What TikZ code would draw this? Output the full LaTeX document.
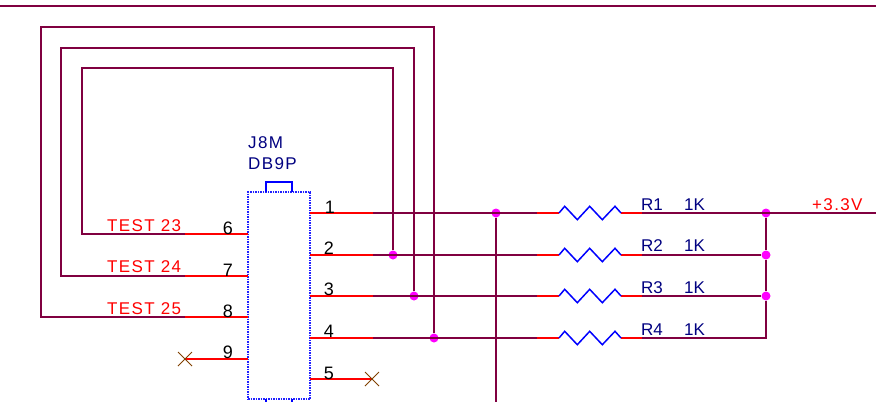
\documentclass[tikz,border=0pt]{standalone}
\usepackage{fontspec}
\setmainfont{Liberation Sans}
\newfontfamily\widefont[LetterSpace=8]{Liberation Sans}
\definecolor{wirecol}{HTML}{800040}
\definecolor{pincol}{HTML}{FF0000}
\definecolor{refcol}{HTML}{000080}
\definecolor{boxcol}{HTML}{2020FF}
\definecolor{nccol}{HTML}{804000}
\definecolor{dotcol}{HTML}{FF00FF}
\tikzset{
  wire/.style={draw=wirecol,line width=1.6pt},
  pin/.style={draw=pincol,line width=1.6pt},
  res/.style={draw=blue,line width=1.5pt},
  dot/.style={circle,fill=dotcol,inner sep=0pt,minimum size=9pt},
  nc/.style={draw=nccol,line width=0.8pt},
  num/.style={text=black,font=\fontsize{18}{20}\selectfont,inner sep=0pt},
  reflabel/.style={text=refcol,font=\fontsize{17}{19}\selectfont,inner sep=0pt,anchor=base west},
  netlabel/.style={text=pincol,font=\fontsize{17}{19}\selectfont\widefont,inner sep=0pt,anchor=base west},
}
\begin{document}
\begin{tikzpicture}[x=1pt,y=-1pt]
\useasboundingbox (0,0) rectangle (876,402);

% define the connector
  \node[draw=boxcol,densely dotted,line width=1.5pt,inner sep=0pt,minimum width=62pt,minimum height=207pt] (j8) at (279,295.5) {};
  \draw[res] (266,192) |- (292,182) -- (292,192);
  \draw[res] (266,399) -- (266,402) (292,399) -- (292,402);

% define the pin ends
  \coordinate (p1a) at (310,213);  \coordinate (p1) at (373,213);
  \coordinate (p2a) at (310,255);  \coordinate (p2) at (373,255);
  \coordinate (p3a) at (310,296);  \coordinate (p3) at (373,296);
  \coordinate (p4a) at (310,338);  \coordinate (p4) at (373,338);
  \coordinate (p5a) at (310,379);  \coordinate (p5) at (372,379);
  \coordinate (p6a) at (248,234);  \coordinate (p6) at (185,234);
  \coordinate (p7a) at (248,276);  \coordinate (p7) at (185,276);
  \coordinate (p8a) at (248,317);  \coordinate (p8) at (185,317);
  \coordinate (p9a) at (248,359);  \coordinate (p9) at (185,359);

% define the junctions
  \node[dot] (d1) at (496,213) {};
  \node[dot] (d2) at (393,255) {};
  \node[dot] (d3) at (414,296) {};
  \node[dot] (d4) at (434,338) {};
  \node[dot] (e1) at (766,213) {};
  \node[dot] (e2) at (766,255) {};
  \node[dot] (e3) at (766,296) {};
  \coordinate (e4) at (766,338);

% define the resistor ends
  \coordinate (r1a) at (537,213);  \coordinate (r1b) at (559,213);
  \coordinate (r1c) at (621,213);  \coordinate (r1d) at (642,213);
  \coordinate (r2a) at (537,255);  \coordinate (r2b) at (559,255);
  \coordinate (r2c) at (621,255);  \coordinate (r2d) at (642,255);
  \coordinate (r3a) at (537,296);  \coordinate (r3b) at (559,296);
  \coordinate (r3c) at (621,296);  \coordinate (r3d) at (642,296);
  \coordinate (r4a) at (537,338);  \coordinate (r4b) at (559,338);
  \coordinate (r4c) at (621,338);  \coordinate (r4d) at (642,338);

% define the free wire ends
  \coordinate (top1) at (0,6);     \coordinate (top2) at (876,6);
  \coordinate (vcc) at (876,213);  \coordinate (down) at (496,402);
  \coordinate (c23) at (82,68);
  \coordinate (c24) at (61,48);
  \coordinate (c25) at (41,27);

% define the wires
  \path[wire] (top1) edge (top2)
        (p1) edge (r1a)
        (p2) edge (r2a)
        (p3) edge (r3a)
        (p4) edge (r4a)
        (r1d) edge (vcc)
        (r2d) edge (e2)
        (r3d) edge (e3)
        (r4d) edge (e4)
        (d1) edge (down);
  \draw[wire] (e1) -- (e2) -- (e3) -- (e4) -- (r4d);
  \draw[wire] (d2) |- (c23) |- (p6);
  \draw[wire] (d3) |- (c24) |- (p7);
  \draw[wire] (d4) |- (c25) |- (p8);

% define the red pins
  \path[pin] (p1a) edge (p1)
        (p2a) edge (p2)
        (p3a) edge (p3)
        (p4a) edge (p4)
        (p5a) edge (p5)
        (p6a) edge (p6)
        (p7a) edge (p7)
        (p8a) edge (p8)
        (p9a) edge (p9)
        (r1a) edge (r1b)  (r1c) edge (r1d)
        (r2a) edge (r2b)  (r2c) edge (r2d)
        (r3a) edge (r3b)  (r3c) edge (r3d)
        (r4a) edge (r4b)  (r4c) edge (r4d);

% define the resistors
  \draw[res] (r1b) -- ++(5.7,-6.7) -- ++(12.6,13.4) -- ++(12.4,-13.4) -- ++(12.6,13.4) -- ++(12.7,-13.4) -- (r1c);
  \draw[res] (r2b) -- ++(5.7,-6.7) -- ++(12.6,13.4) -- ++(12.4,-13.4) -- ++(12.6,13.4) -- ++(12.7,-13.4) -- (r2c);
  \draw[res] (r3b) -- ++(5.7,-6.7) -- ++(12.6,13.4) -- ++(12.4,-13.4) -- ++(12.6,13.4) -- ++(12.7,-13.4) -- (r3c);
  \draw[res] (r4b) -- ++(5.7,-6.7) -- ++(12.6,13.4) -- ++(12.4,-13.4) -- ++(12.6,13.4) -- ++(12.7,-13.4) -- (r4c);

% define the not connected marks
  \draw[nc] (p9) ++(-7,-7) -- ++(14,14) ++(-14,0) -- ++(14,-14);
  \draw[nc] (p5) ++(-7,-7) -- ++(14,14) ++(-14,0) -- ++(14,-14);

% define the labels
  \node[reflabel] (j8ref) at (248,148) {\widefont J8M};
  \node[reflabel] (j8val) at (248,169) {\widefont DB9P};
  \node[netlabel] (t23) at (107,231) {TEST 23};
  \node[netlabel] (t24) at (107,272) {TEST 24};
  \node[netlabel] (t25) at (107,314) {TEST 25};
  \node[netlabel] (v33) at (812,210) {+3.3V};
  \node[reflabel] (r1) at (641,210) {R1};
  \node[reflabel] (r2) at (641,251.5) {R2};
  \node[reflabel] (r3) at (641,293) {R3};
  \node[reflabel] (r4) at (641,335) {R4};
  \node[reflabel] (k1) at (684,210) {1K};
  \node[reflabel] (k2) at (684,251.5) {1K};
  \node[reflabel] (k3) at (684,293) {1K};
  \node[reflabel] (k4) at (684,335) {1K};
  \node[num] (n1) at (330,207) {1};
  \node[num] (n2) at (329,248) {2};
  \node[num] (n3) at (329,289) {3};
  \node[num] (n4) at (329,331) {4};
  \node[num] (n5) at (329,373) {5};
  \node[num] (n6) at (228,228) {6};
  \node[num] (n7) at (228,270) {7};
  \node[num] (n8) at (228,311) {8};
  \node[num] (n9) at (228,352) {9};
\end{tikzpicture}
\end{document}
